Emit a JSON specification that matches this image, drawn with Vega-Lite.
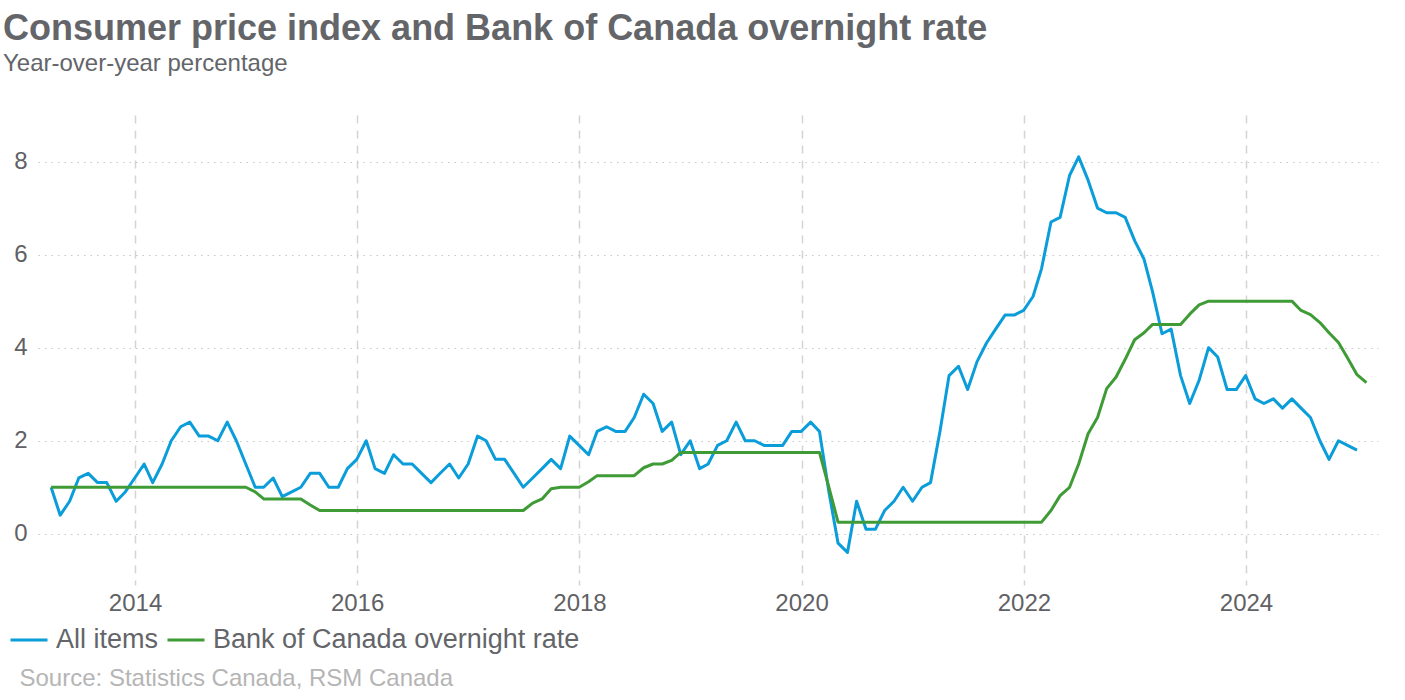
{
  "$schema": "https://vega.github.io/schema/vega-lite/v6.json",
  "width": 1340,
  "height": 470,
  "autosize": {"type": "none"},
  "padding": {"left": 38, "top": 115, "right": 27, "bottom": 115},
  "background": "white",
  "config": {
    "font": "Liberation Sans",
    "view": {"stroke": null}
  },
  "title": {
    "text": "Consumer price index and Bank of Canada overnight rate",
    "subtitle": "Year-over-year percentage",
    "anchor": "start",
    "dx": -6,
    "offset": 38,
    "font": "Liberation Sans",
    "fontSize": 36,
    "fontWeight": "bold",
    "color": "#636569",
    "subtitleFont": "Liberation Sans",
    "subtitleFontSize": 24,
    "subtitleColor": "#636569",
    "subtitlePadding": 4
  },
  "datasets": {
    "cpi": [
      {"date": "2013-03-31", "value": 1.0}, {"date": "2013-04-30", "value": 0.4}, {"date": "2013-05-31", "value": 0.7}, {"date": "2013-06-30", "value": 1.2}, {"date": "2013-07-31", "value": 1.3}, {"date": "2013-08-31", "value": 1.1}, {"date": "2013-09-30", "value": 1.1}, {"date": "2013-10-31", "value": 0.7}, {"date": "2013-11-30", "value": 0.9}, {"date": "2013-12-31", "value": 1.2},
      {"date": "2014-01-31", "value": 1.5}, {"date": "2014-02-28", "value": 1.1}, {"date": "2014-03-31", "value": 1.5}, {"date": "2014-04-30", "value": 2.0}, {"date": "2014-05-31", "value": 2.3}, {"date": "2014-06-30", "value": 2.4}, {"date": "2014-07-31", "value": 2.1}, {"date": "2014-08-31", "value": 2.1}, {"date": "2014-09-30", "value": 2.0}, {"date": "2014-10-31", "value": 2.4}, {"date": "2014-11-30", "value": 2.0}, {"date": "2014-12-31", "value": 1.5},
      {"date": "2015-01-31", "value": 1.0}, {"date": "2015-02-28", "value": 1.0}, {"date": "2015-03-31", "value": 1.2}, {"date": "2015-04-30", "value": 0.8}, {"date": "2015-05-31", "value": 0.9}, {"date": "2015-06-30", "value": 1.0}, {"date": "2015-07-31", "value": 1.3}, {"date": "2015-08-31", "value": 1.3}, {"date": "2015-09-30", "value": 1.0}, {"date": "2015-10-31", "value": 1.0}, {"date": "2015-11-30", "value": 1.4}, {"date": "2015-12-31", "value": 1.6},
      {"date": "2016-01-31", "value": 2.0}, {"date": "2016-02-29", "value": 1.4}, {"date": "2016-03-31", "value": 1.3}, {"date": "2016-04-30", "value": 1.7}, {"date": "2016-05-31", "value": 1.5}, {"date": "2016-06-30", "value": 1.5}, {"date": "2016-07-31", "value": 1.3}, {"date": "2016-08-31", "value": 1.1}, {"date": "2016-09-30", "value": 1.3}, {"date": "2016-10-31", "value": 1.5}, {"date": "2016-11-30", "value": 1.2}, {"date": "2016-12-31", "value": 1.5},
      {"date": "2017-01-31", "value": 2.1}, {"date": "2017-02-28", "value": 2.0}, {"date": "2017-03-31", "value": 1.6}, {"date": "2017-04-30", "value": 1.6}, {"date": "2017-05-31", "value": 1.3}, {"date": "2017-06-30", "value": 1.0}, {"date": "2017-07-31", "value": 1.2}, {"date": "2017-08-31", "value": 1.4}, {"date": "2017-09-30", "value": 1.6}, {"date": "2017-10-31", "value": 1.4}, {"date": "2017-11-30", "value": 2.1}, {"date": "2017-12-31", "value": 1.9},
      {"date": "2018-01-31", "value": 1.7}, {"date": "2018-02-28", "value": 2.2}, {"date": "2018-03-31", "value": 2.3}, {"date": "2018-04-30", "value": 2.2}, {"date": "2018-05-31", "value": 2.2}, {"date": "2018-06-30", "value": 2.5}, {"date": "2018-07-31", "value": 3.0}, {"date": "2018-08-31", "value": 2.8}, {"date": "2018-09-30", "value": 2.2}, {"date": "2018-10-31", "value": 2.4}, {"date": "2018-11-30", "value": 1.7}, {"date": "2018-12-31", "value": 2.0},
      {"date": "2019-01-31", "value": 1.4}, {"date": "2019-02-28", "value": 1.5}, {"date": "2019-03-31", "value": 1.9}, {"date": "2019-04-30", "value": 2.0}, {"date": "2019-05-31", "value": 2.4}, {"date": "2019-06-30", "value": 2.0}, {"date": "2019-07-31", "value": 2.0}, {"date": "2019-08-31", "value": 1.9}, {"date": "2019-09-30", "value": 1.9}, {"date": "2019-10-31", "value": 1.9}, {"date": "2019-11-30", "value": 2.2}, {"date": "2019-12-31", "value": 2.2},
      {"date": "2020-01-31", "value": 2.4}, {"date": "2020-02-29", "value": 2.2}, {"date": "2020-03-31", "value": 0.9}, {"date": "2020-04-30", "value": -0.2}, {"date": "2020-05-31", "value": -0.4}, {"date": "2020-06-30", "value": 0.7}, {"date": "2020-07-31", "value": 0.1}, {"date": "2020-08-31", "value": 0.1}, {"date": "2020-09-30", "value": 0.5}, {"date": "2020-10-31", "value": 0.7}, {"date": "2020-11-30", "value": 1.0}, {"date": "2020-12-31", "value": 0.7},
      {"date": "2021-01-31", "value": 1.0}, {"date": "2021-02-28", "value": 1.1}, {"date": "2021-03-31", "value": 2.2}, {"date": "2021-04-30", "value": 3.4}, {"date": "2021-05-31", "value": 3.6}, {"date": "2021-06-30", "value": 3.1}, {"date": "2021-07-31", "value": 3.7}, {"date": "2021-08-31", "value": 4.1}, {"date": "2021-09-30", "value": 4.4}, {"date": "2021-10-31", "value": 4.7}, {"date": "2021-11-30", "value": 4.7}, {"date": "2021-12-31", "value": 4.8},
      {"date": "2022-01-31", "value": 5.1}, {"date": "2022-02-28", "value": 5.7}, {"date": "2022-03-31", "value": 6.7}, {"date": "2022-04-30", "value": 6.8}, {"date": "2022-05-31", "value": 7.7}, {"date": "2022-06-30", "value": 8.1}, {"date": "2022-07-31", "value": 7.6}, {"date": "2022-08-31", "value": 7.0}, {"date": "2022-09-30", "value": 6.9}, {"date": "2022-10-31", "value": 6.9}, {"date": "2022-11-30", "value": 6.8}, {"date": "2022-12-31", "value": 6.3},
      {"date": "2023-01-31", "value": 5.9}, {"date": "2023-02-28", "value": 5.2}, {"date": "2023-03-31", "value": 4.3}, {"date": "2023-04-30", "value": 4.4}, {"date": "2023-05-31", "value": 3.4}, {"date": "2023-06-30", "value": 2.8}, {"date": "2023-07-31", "value": 3.3}, {"date": "2023-08-31", "value": 4.0}, {"date": "2023-09-30", "value": 3.8}, {"date": "2023-10-31", "value": 3.1}, {"date": "2023-11-30", "value": 3.1}, {"date": "2023-12-31", "value": 3.4},
      {"date": "2024-01-31", "value": 2.9}, {"date": "2024-02-29", "value": 2.8}, {"date": "2024-03-31", "value": 2.9}, {"date": "2024-04-30", "value": 2.7}, {"date": "2024-05-31", "value": 2.9}, {"date": "2024-06-30", "value": 2.7}, {"date": "2024-07-31", "value": 2.5}, {"date": "2024-08-31", "value": 2.0}, {"date": "2024-09-30", "value": 1.6}, {"date": "2024-10-31", "value": 2.0}, {"date": "2024-11-30", "value": 1.9}, {"date": "2024-12-31", "value": 1.8}
    ],
    "rate": [
      {"date": "2013-03-31", "value": 1.0}, {"date": "2013-04-30", "value": 1.0}, {"date": "2013-05-31", "value": 1.0}, {"date": "2013-06-30", "value": 1.0}, {"date": "2013-07-31", "value": 1.0}, {"date": "2013-08-31", "value": 1.0}, {"date": "2013-09-30", "value": 1.0}, {"date": "2013-10-31", "value": 1.0}, {"date": "2013-11-30", "value": 1.0}, {"date": "2013-12-31", "value": 1.0},
      {"date": "2014-01-31", "value": 1.0}, {"date": "2014-02-28", "value": 1.0}, {"date": "2014-03-31", "value": 1.0}, {"date": "2014-04-30", "value": 1.0}, {"date": "2014-05-31", "value": 1.0}, {"date": "2014-06-30", "value": 1.0}, {"date": "2014-07-31", "value": 1.0}, {"date": "2014-08-31", "value": 1.0}, {"date": "2014-09-30", "value": 1.0}, {"date": "2014-10-31", "value": 1.0}, {"date": "2014-11-30", "value": 1.0}, {"date": "2014-12-31", "value": 1.0},
      {"date": "2015-01-31", "value": 0.9}, {"date": "2015-02-28", "value": 0.75}, {"date": "2015-03-31", "value": 0.75}, {"date": "2015-04-30", "value": 0.75}, {"date": "2015-05-31", "value": 0.75}, {"date": "2015-06-30", "value": 0.75}, {"date": "2015-07-31", "value": 0.62}, {"date": "2015-08-31", "value": 0.5}, {"date": "2015-09-30", "value": 0.5}, {"date": "2015-10-31", "value": 0.5}, {"date": "2015-11-30", "value": 0.5}, {"date": "2015-12-31", "value": 0.5},
      {"date": "2016-01-31", "value": 0.5}, {"date": "2016-02-29", "value": 0.5}, {"date": "2016-03-31", "value": 0.5}, {"date": "2016-04-30", "value": 0.5}, {"date": "2016-05-31", "value": 0.5}, {"date": "2016-06-30", "value": 0.5}, {"date": "2016-07-31", "value": 0.5}, {"date": "2016-08-31", "value": 0.5}, {"date": "2016-09-30", "value": 0.5}, {"date": "2016-10-31", "value": 0.5}, {"date": "2016-11-30", "value": 0.5}, {"date": "2016-12-31", "value": 0.5},
      {"date": "2017-01-31", "value": 0.5}, {"date": "2017-02-28", "value": 0.5}, {"date": "2017-03-31", "value": 0.5}, {"date": "2017-04-30", "value": 0.5}, {"date": "2017-05-31", "value": 0.5}, {"date": "2017-06-30", "value": 0.5}, {"date": "2017-07-31", "value": 0.66}, {"date": "2017-08-31", "value": 0.75}, {"date": "2017-09-30", "value": 0.97}, {"date": "2017-10-31", "value": 1.0}, {"date": "2017-11-30", "value": 1.0}, {"date": "2017-12-31", "value": 1.0},
      {"date": "2018-01-31", "value": 1.12}, {"date": "2018-02-28", "value": 1.25}, {"date": "2018-03-31", "value": 1.25}, {"date": "2018-04-30", "value": 1.25}, {"date": "2018-05-31", "value": 1.25}, {"date": "2018-06-30", "value": 1.25}, {"date": "2018-07-31", "value": 1.42}, {"date": "2018-08-31", "value": 1.5}, {"date": "2018-09-30", "value": 1.5}, {"date": "2018-10-31", "value": 1.58}, {"date": "2018-11-30", "value": 1.75}, {"date": "2018-12-31", "value": 1.75},
      {"date": "2019-01-31", "value": 1.75}, {"date": "2019-02-28", "value": 1.75}, {"date": "2019-03-31", "value": 1.75}, {"date": "2019-04-30", "value": 1.75}, {"date": "2019-05-31", "value": 1.75}, {"date": "2019-06-30", "value": 1.75}, {"date": "2019-07-31", "value": 1.75}, {"date": "2019-08-31", "value": 1.75}, {"date": "2019-09-30", "value": 1.75}, {"date": "2019-10-31", "value": 1.75}, {"date": "2019-11-30", "value": 1.75}, {"date": "2019-12-31", "value": 1.75},
      {"date": "2020-01-31", "value": 1.75}, {"date": "2020-02-29", "value": 1.75}, {"date": "2020-03-31", "value": 1.0}, {"date": "2020-04-30", "value": 0.25}, {"date": "2020-05-31", "value": 0.25}, {"date": "2020-06-30", "value": 0.25}, {"date": "2020-07-31", "value": 0.25}, {"date": "2020-08-31", "value": 0.25}, {"date": "2020-09-30", "value": 0.25}, {"date": "2020-10-31", "value": 0.25}, {"date": "2020-11-30", "value": 0.25}, {"date": "2020-12-31", "value": 0.25},
      {"date": "2021-01-31", "value": 0.25}, {"date": "2021-02-28", "value": 0.25}, {"date": "2021-03-31", "value": 0.25}, {"date": "2021-04-30", "value": 0.25}, {"date": "2021-05-31", "value": 0.25}, {"date": "2021-06-30", "value": 0.25}, {"date": "2021-07-31", "value": 0.25}, {"date": "2021-08-31", "value": 0.25}, {"date": "2021-09-30", "value": 0.25}, {"date": "2021-10-31", "value": 0.25}, {"date": "2021-11-30", "value": 0.25}, {"date": "2021-12-31", "value": 0.25},
      {"date": "2022-01-31", "value": 0.25}, {"date": "2022-02-28", "value": 0.25}, {"date": "2022-03-31", "value": 0.5}, {"date": "2022-04-30", "value": 0.82}, {"date": "2022-05-31", "value": 1.0}, {"date": "2022-06-30", "value": 1.5}, {"date": "2022-07-31", "value": 2.15}, {"date": "2022-08-31", "value": 2.5}, {"date": "2022-09-30", "value": 3.12}, {"date": "2022-10-31", "value": 3.37}, {"date": "2022-11-30", "value": 3.75}, {"date": "2022-12-31", "value": 4.17},
      {"date": "2023-01-31", "value": 4.32}, {"date": "2023-02-28", "value": 4.5}, {"date": "2023-03-31", "value": 4.5}, {"date": "2023-04-30", "value": 4.5}, {"date": "2023-05-31", "value": 4.5}, {"date": "2023-06-30", "value": 4.72}, {"date": "2023-07-31", "value": 4.92}, {"date": "2023-08-31", "value": 5.0}, {"date": "2023-09-30", "value": 5.0}, {"date": "2023-10-31", "value": 5.0}, {"date": "2023-11-30", "value": 5.0}, {"date": "2023-12-31", "value": 5.0},
      {"date": "2024-01-31", "value": 5.0}, {"date": "2024-02-29", "value": 5.0}, {"date": "2024-03-31", "value": 5.0}, {"date": "2024-04-30", "value": 5.0}, {"date": "2024-05-31", "value": 5.0}, {"date": "2024-06-30", "value": 4.8}, {"date": "2024-07-31", "value": 4.71}, {"date": "2024-08-31", "value": 4.54}, {"date": "2024-09-30", "value": 4.32}, {"date": "2024-10-31", "value": 4.11}, {"date": "2024-11-30", "value": 3.78}, {"date": "2024-12-31", "value": 3.42},
      {"date": "2025-01-31", "value": 3.25}
    ]
  },
  "encoding": {
    "x": {
      "field": "date",
      "type": "temporal",
      "scale": {"domain": [{"year": 2013, "month": 2, "date": 16}, {"year": 2025, "month": 3, "date": 10}]},
      "axis": {
        "format": "%Y",
        "tickCount": {"interval": "year", "step": 2},
        "grid": true,
        "gridDash": [8, 7],
        "gridColor": "#d4d4d4",
        "gridWidth": 1.5,
        "domain": false,
        "ticks": false,
        "labelFont": "Liberation Sans",
        "labelFontSize": 24,
        "labelColor": "#5f6164",
        "labelPadding": 6,
        "title": "Source: Statistics Canada, RSM Canada",
        "titleFont": "Liberation Sans",
        "titleFontSize": 24,
        "titleFontWeight": "normal",
        "titleColor": "#b5b5b5",
        "titleAnchor": "start",
        "titleAlign": "left",
        "titleBaseline": "alphabetic",
        "titleX": -19,
        "titleY": 100
      }
    },
    "y": {
      "field": "value",
      "type": "quantitative",
      "scale": {"domain": [-1.1, 9], "nice": false, "zero": false},
      "axis": {
        "values": [0, 2, 4, 6, 8],
        "grid": true,
        "gridDash": [1.5, 5],
        "gridColor": "#c8c8c8",
        "gridWidth": 1.2,
        "domain": false,
        "ticks": false,
        "labelFont": "Liberation Sans",
        "labelFontSize": 24,
        "labelColor": "#5f6164",
        "labelPadding": 11,
        "title": null
      }
    }
  },
  "layer": [
    {
      "data": {"name": "cpi"},
      "mark": {"type": "line", "strokeWidth": 3, "strokeJoin": "round"},
      "encoding": {
        "color": {
          "datum": "All items",
          "type": "nominal",
          "scale": {"domain": ["All items", "Bank of Canada overnight rate"], "range": ["#0a9dd9", "#3f9b35"]},
          "legend": {
            "orient": "none",
            "legendX": -29,
            "legendY": 505,
            "direction": "horizontal",
            "title": null,
            "symbolType": "stroke",
            "symbolSize": 1369,
            "symbolStrokeWidth": 3,
            "labelFont": "Liberation Sans",
            "labelFontSize": 27,
            "labelColor": "#636569",
            "labelOffset": 7,
            "columnPadding": 2,
            "labelLimit": 0
          }
        }
      }
    },
    {
      "data": {"name": "rate"},
      "mark": {"type": "line", "strokeWidth": 3, "strokeJoin": "round"},
      "encoding": {
        "color": {"datum": "Bank of Canada overnight rate", "type": "nominal"}
      }
    }
  ]
}
